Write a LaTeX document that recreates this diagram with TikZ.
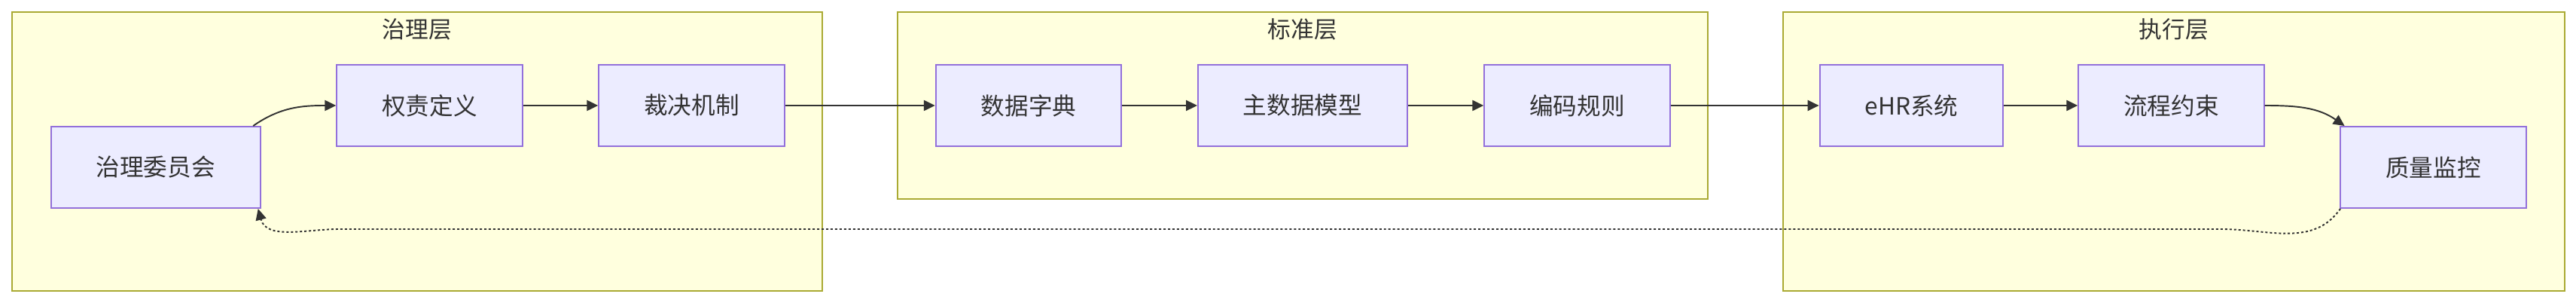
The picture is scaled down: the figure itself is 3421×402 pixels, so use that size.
\documentclass[tikz,border=0pt]{standalone}
\usepackage{fontspec}
\setmainfont{Noto Sans CJK SC}
\usepackage{xcolor}
\usepackage{tikz}
\usetikzlibrary{arrows.meta,positioning,fit}

\definecolor{clfill}{HTML}{FFFFDE}
\definecolor{cldraw}{HTML}{AAAA33}
\definecolor{boxfill}{HTML}{ECECFF}
\definecolor{boxdraw}{HTML}{9370DB}
\definecolor{ink}{HTML}{333333}

\begin{document}
\begin{tikzpicture}[
  x=0.02cm, y=-0.02cm,
  font=\fontsize{18}{22}\selectfont,
  text=ink,
  layer/.style={
    draw=cldraw,
    fill=clfill,
    line width=1.3pt,
    inner sep=0pt
  },
  title/.style={font=\fontsize{17.5}{21}\selectfont},
  box/.style={
    draw=boxdraw,
    fill=boxfill,
    line width=1.1pt,
    inner xsep=1.2cm,
    minimum height=2.16cm
  },
  line/.style={-{Triangle[length=8.5pt,width=8pt]}, draw=ink, line width=1.1pt},
  back/.style={line, dash pattern=on 1.7pt off 1.7pt}
]
\useasboundingbox (0,0) rectangle (3421,402);

% layers
\node[layer, fit={(16,16) (1092,386)}] (govlayer) {};
\node[title] (govtitle) at (554,39) {治理层};

\node[layer, fit={(1192,16) (2268,264)}] (stdlayer) {};
\node[title] (stdtitle) at (1730,39) {标准层};

\node[layer, fit={(2368,16) (3406,386)}] (exelayer) {};
\node[title] (exetitle) at (2887,39) {执行层};

% boxes
\node[box] (gov) at (206.7,222) {治理委员会};
\node[box] (duty) at (570.5,140) {权责定义};
\node[box] (ruling) at (918.5,140) {裁决机制};

\node[box] (dict) at (1366,140) {数据字典};
\node[box] (mdm) at (1730,140) {主数据模型};
\node[box] (code) at (2094.5,140) {编码规则};

\node[box] (ehr) at (2538.5,140) {eHR系统};
\node[box] (flow) at (2883.5,140) {流程约束};
\node[box] (qa) at (3231.5,222) {质量监控};

\coordinate (backR) at (2950,304);
\coordinate (backL) at (450,304);

\draw[line] (gov.23) to[out=35,in=180] (duty.west);
\draw[line] (duty) -- (ruling);
\draw[line] (ruling) -- (dict);
\draw[line] (dict) -- (mdm);
\draw[line] (mdm) -- (code);
\draw[line] (code) -- (ehr);
\draw[line] (ehr) -- (flow);
\draw[line] (flow.east) to[out=0,in=145] (qa.155);

\draw[back] (qa.204) to[out=-125,in=0] (backR) -- (backL) to[out=180,in=-75] (gov.338);

\end{tikzpicture}
\end{document}
